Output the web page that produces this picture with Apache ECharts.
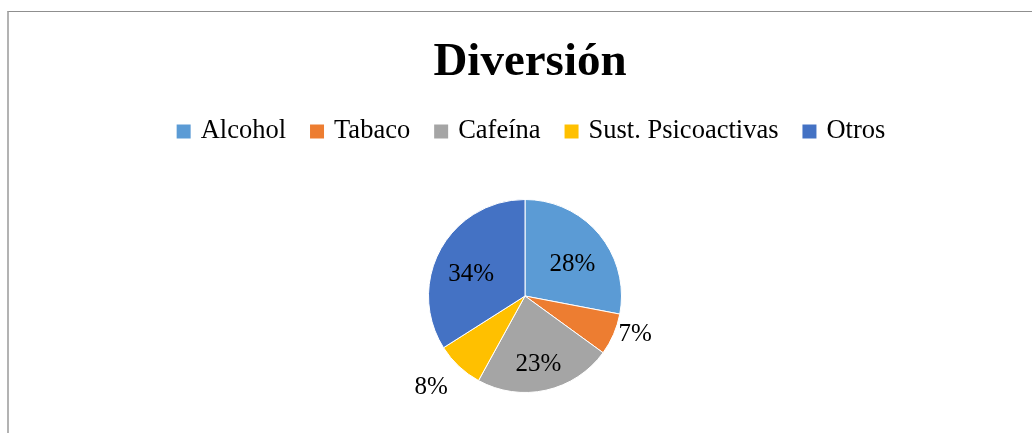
<!DOCTYPE html>
<html>
<head>
<meta charset="utf-8">
<script src="https://cdn.jsdelivr.net/npm/echarts@6/dist/echarts.min.js"></script>
<style>
	html, body { margin: 0; padding: 0; background: #fff; overflow: hidden; }
	#main { position: absolute; left: 0; top: 0; width: 1060px; height: 433px; }
	#frame { position: absolute; left: 7px; top: 11px; width: 1100px; height: 500px;
		border-top: 1px solid #8f8f8f; border-left: 2px solid #b3b3b3; pointer-events: none; }
</style>
</head>
<body>
<div id="main"></div>
<div id="frame"></div>
<script>
// datos del grafico
var categorias = ["Alcohol", "Tabaco", "Cafeína", "Sust. Psicoactivas", "Otros"];
var valores = [28, 7, 23, 8, 34];
var colores = ["#5B9BD5", "#ED7D31", "#A5A5A5", "#FFC000", "#4472C4"];

var fuente = "'Times New Roman', 'Liberation Serif', serif";
var centro = [525, 296];
var radio = 96.5;

// etiquetas que van fuera del sector (las pequeñas)
var fuera = { "Tabaco": true, "Sust. Psicoactivas": true };

var datos = [];
for (var i = 0; i < categorias.length; i++) {
	var item = { name: categorias[i], value: valores[i], itemStyle: { color: colores[i] } };
	if (fuera[categorias[i]]) {
		item.label = { position: "outside" };
	}
	datos.push(item);
}

var myChart = echarts.init(document.getElementById("main"));

var option = {
	animation: false,
	title: {
		text: "Diversión",
		left: "center",
		top: 34,
		textStyle: { fontFamily: fuente, fontSize: 47, fontWeight: "bold", color: "#000" }
	},
	legend: {
		top: 113,
		left: "center",
		icon: "rect",
		itemWidth: 16,
		itemHeight: 16,
		itemGap: 22,
		data: categorias,
		textStyle: { fontFamily: fuente, fontSize: 26.5, color: "#000", padding: [0, 0, 0, 4] }
	},
	series: [{
		type: "pie",
		center: centro,
		radius: radio,
		startAngle: 90,
		clockwise: true,
		avoidLabelOverlap: false,
		itemStyle: { borderColor: "#fff", borderWidth: 1 },
		label: {
			show: true,
			position: "inside",
			formatter: "{d}%",
			fontFamily: fuente,
			fontSize: 25,
			color: "#000"
		},
		labelLine: { show: false, length: 0, length2: 0 },
		labelLayout: function (p) {
			var nombre = categorias[p.dataIndex];
			if (nombre === "Sust. Psicoactivas") {
				return { dx: -6, dy: 21 };
			}
			if (fuera[nombre]) {
				return {};
			}
			// mover las etiquetas interiores un poco hacia el borde
			var cx = p.labelRect.x + p.labelRect.width / 2;
			var cy = p.labelRect.y + p.labelRect.height / 2;
			return { dx: (cx - centro[0]) * 0.2, dy: (cy - centro[1]) * 0.2 + 8 };
		},
		data: datos
	}]
};

myChart.setOption(option);
</script>
</body>
</html>
